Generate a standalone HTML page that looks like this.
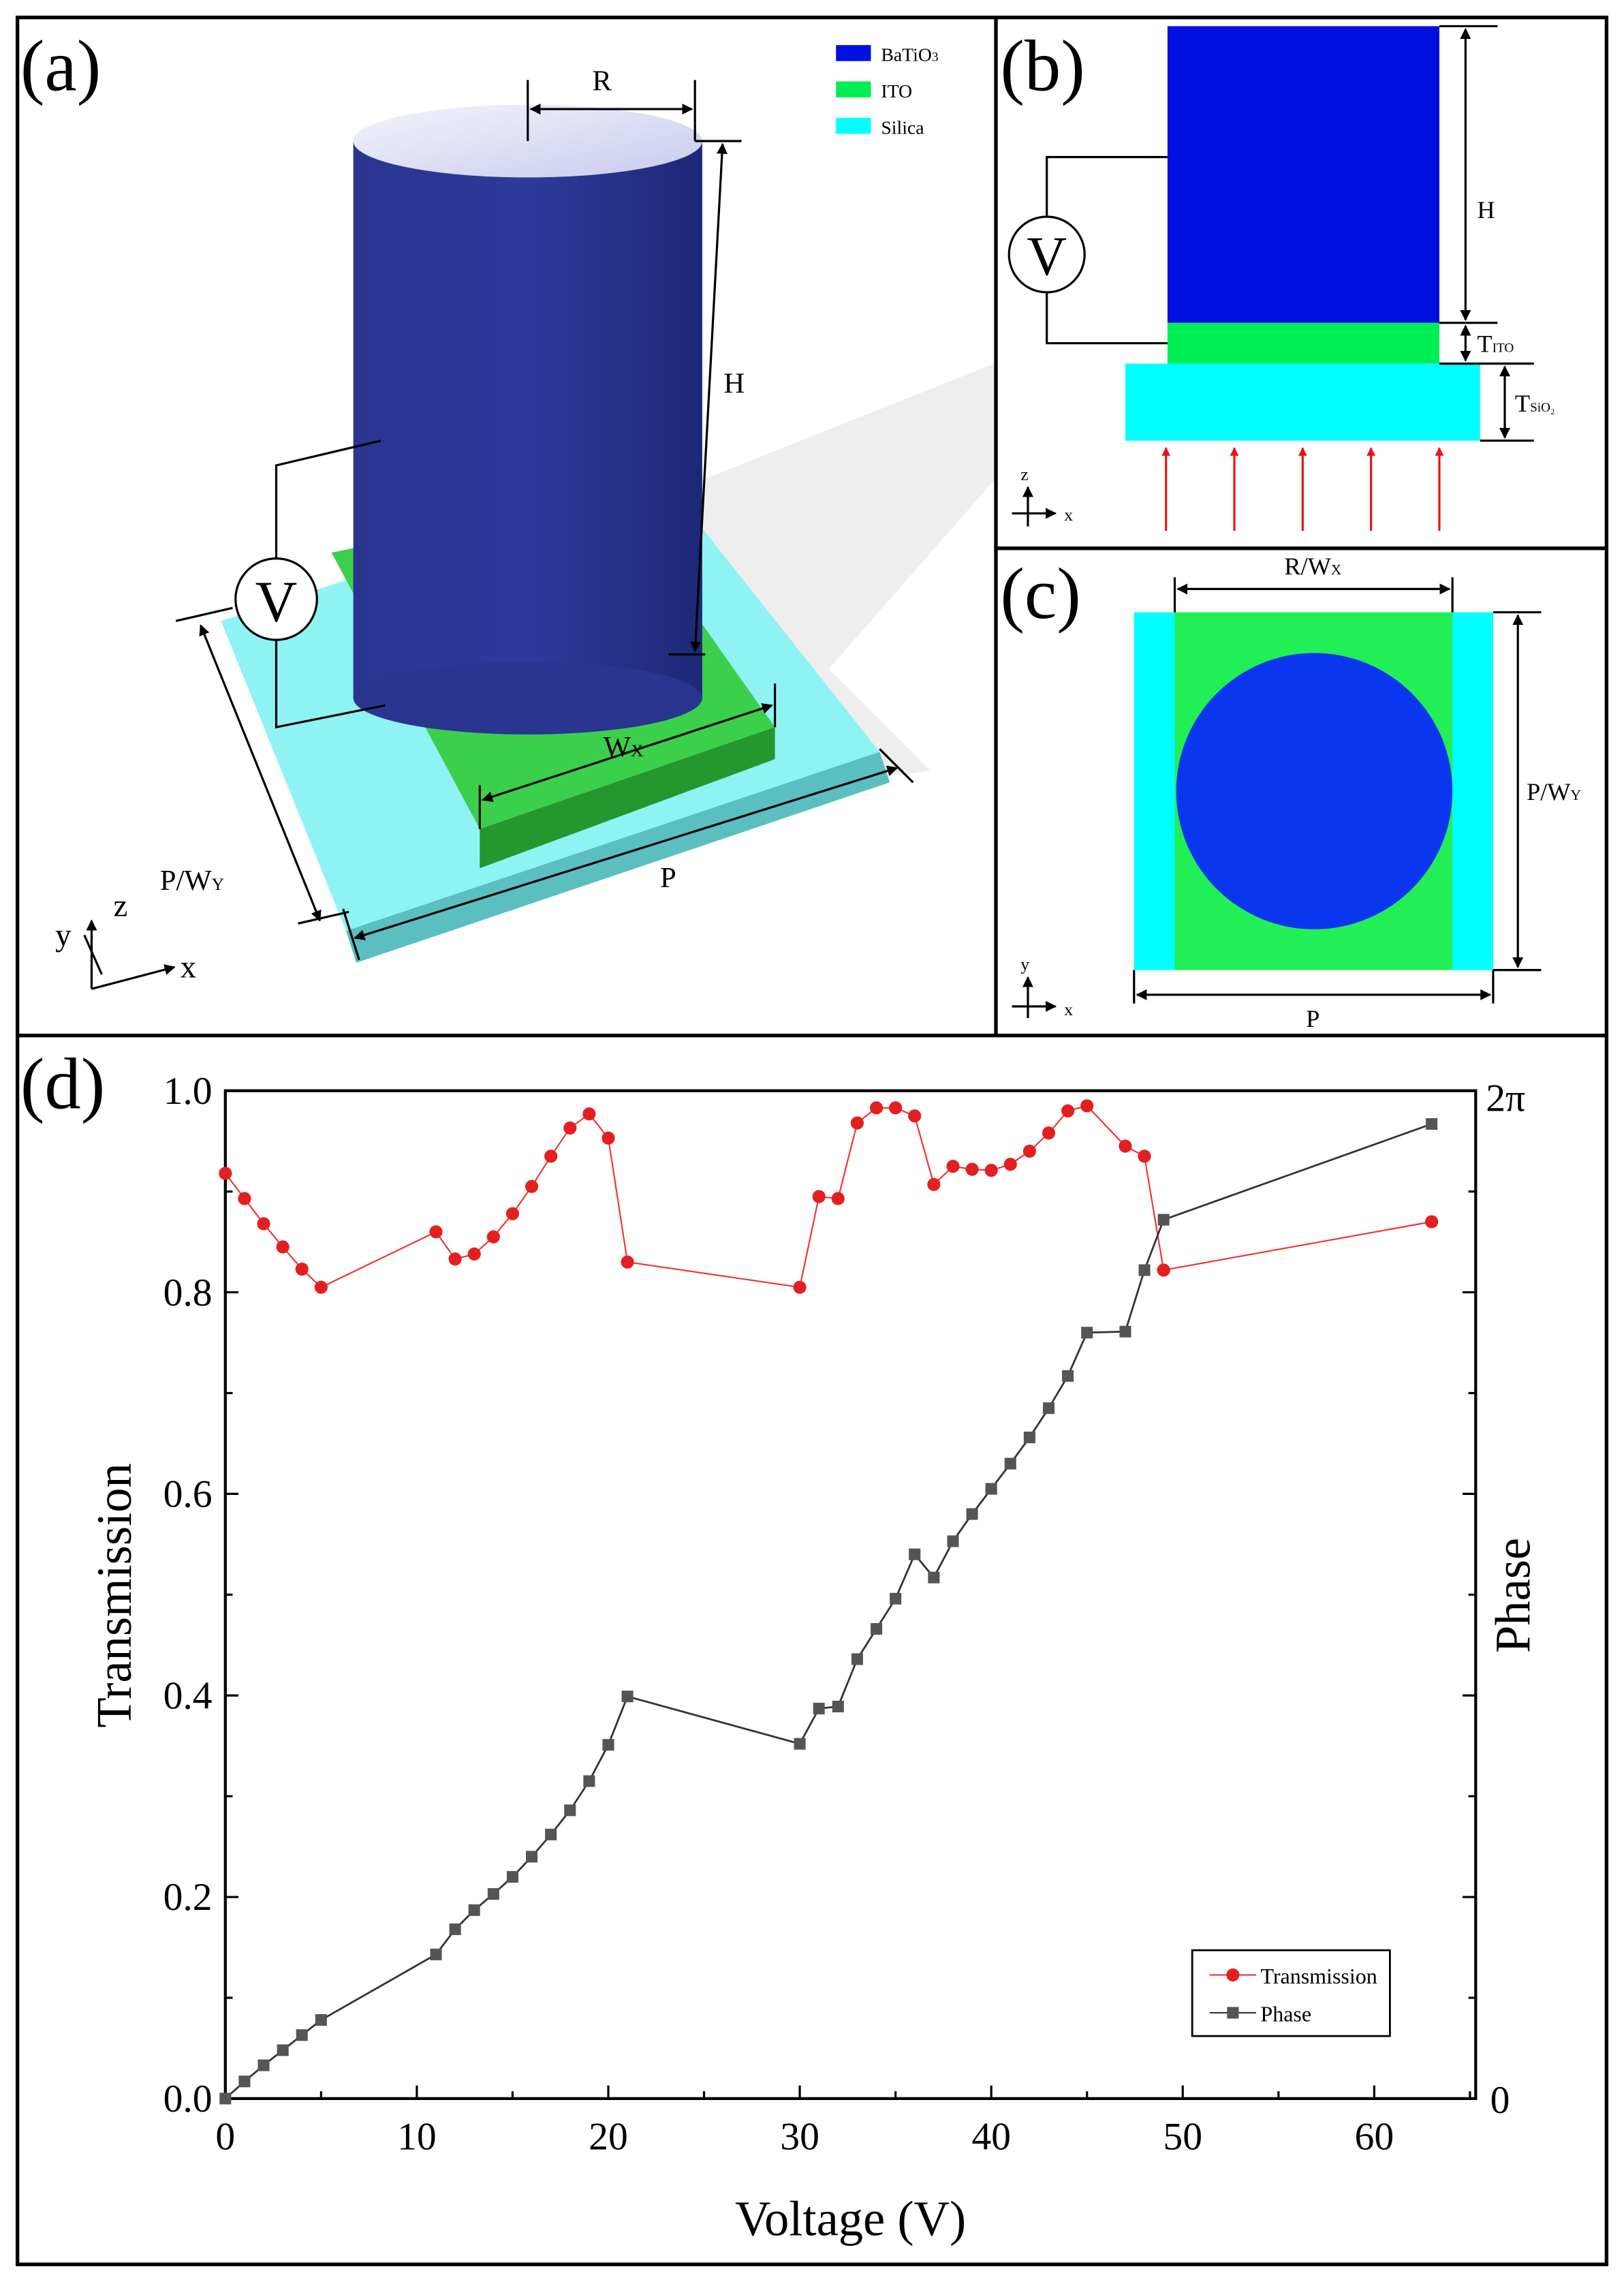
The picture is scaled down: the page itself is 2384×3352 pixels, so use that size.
<!DOCTYPE html>
<html><head><meta charset="utf-8"><style>html,body{margin:0;padding:0;background:#fff}svg{display:block}svg text{font-family:"Liberation Serif","Times New Roman",serif}</style></head><body>
<svg width="2384" height="3352" viewBox="0 0 1117 1570.5" preserveAspectRatio="none" xmlns="http://www.w3.org/2000/svg" font-family="Liberation Serif, serif">
<defs>
<linearGradient id="cyl" x1="0" x2="1" y1="0" y2="0"><stop offset="0" stop-color="#2a3590"/><stop offset="0.5" stop-color="#2e3a9a"/><stop offset="1" stop-color="#1e2878"/></linearGradient>
<linearGradient id="top" x1="0" x2="1" y1="0" y2="1"><stop offset="0" stop-color="#f4f4fb"/><stop offset="1" stop-color="#c8cbee"/></linearGradient>
<marker id="ah" viewBox="0 0 10 10" refX="9" refY="5" markerWidth="5" markerHeight="5" orient="auto-start-reverse"><path d="M0,0L10,5L0,10z" fill="#000"/></marker>
<marker id="ar" viewBox="0 0 10 10" refX="9" refY="5" markerWidth="4" markerHeight="4" orient="auto"><path d="M0,0L10,5L0,10z" fill="#e11"/></marker>
</defs>
<rect width="1117" height="1570.5" fill="#fff"/>
<!-- panel a -->
<polygon points="483,330 684,250 684,330 570,460 640,530 560,540 483,460" fill="#eeeeee"/>
<polygon points="152,427 455,328 605,517 238,640" fill="#8ff3f3"/>
<polygon points="238,640 605,517 612,538 245,662" fill="#5cbfbf"/>
<polygon points="228,380 420,340 533,500 330,570" fill="#3ccf4c"/>
<polygon points="330,570 533,500 533,522 330,597" fill="#26962e"/>
<rect x="243" y="97" width="240" height="383" fill="url(#cyl)"/>
<ellipse cx="363" cy="480" rx="120" ry="25" fill="#2a3590"/>
<ellipse cx="363" cy="97" rx="120" ry="25" fill="url(#top)"/>
<g stroke="#000" stroke-width="2.5" fill="none">
<rect x="12" y="12" width="1093" height="1545"/>
<line x1="12" y1="712" x2="1105" y2="712"/>
<line x1="685" y1="12" x2="685" y2="712"/>
<line x1="685" y1="377" x2="1105" y2="377"/>
</g>
<text x="14" y="62" font-size="50">(a)</text>
<g stroke="#000" stroke-width="1.5" fill="none">
<polyline points="262,303 190,320 190,385"/>
<polyline points="190,440 190,500 265,485"/>
<circle cx="190" cy="412" r="28" fill="#fff"/>
<line x1="363" y1="55" x2="363" y2="97"/><line x1="478" y1="55" x2="478" y2="97"/>
<line x1="365" y1="75" x2="476" y2="75" marker-start="url(#ah)" marker-end="url(#ah)"/>
<line x1="478" y1="97" x2="510" y2="97"/><line x1="460" y1="450" x2="485" y2="450"/>
<line x1="497" y1="99" x2="478" y2="448" marker-start="url(#ah)" marker-end="url(#ah)"/>
<line x1="121" y1="427" x2="160" y2="418"/><line x1="205" y1="635" x2="240" y2="627"/>
<line x1="138" y1="430" x2="220" y2="633" marker-start="url(#ah)" marker-end="url(#ah)"/>
<line x1="236" y1="625" x2="247" y2="660"/><line x1="605" y1="515" x2="628" y2="538"/>
<line x1="244" y1="645" x2="617" y2="528" marker-start="url(#ah)" marker-end="url(#ah)"/>
<line x1="330" y1="540" x2="330" y2="570"/><line x1="533" y1="470" x2="533" y2="500"/>
<line x1="332" y1="550" x2="531" y2="485" marker-start="url(#ah)" marker-end="url(#ah)"/>
<line x1="63" y1="680" x2="63" y2="633" marker-end="url(#ah)"/>
<line x1="63" y1="680" x2="120" y2="665" marker-end="url(#ah)"/>
<line x1="70" y1="670" x2="58" y2="643"/>
</g>
<text x="190" y="427" font-size="40" text-anchor="middle">V</text>
<text x="414" y="62" font-size="20" text-anchor="middle">R</text>
<text x="505" y="270" font-size="20" text-anchor="middle">H</text>
<text x="415" y="520" font-size="20">W<tspan font-size="12">X</tspan></text>
<text x="110" y="612" font-size="20">P/W<tspan font-size="12">Y</tspan></text>
<text x="454" y="610" font-size="20">P</text>
<text x="38" y="650" font-size="22">y</text><text x="78" y="630" font-size="22">z</text><text x="124" y="672" font-size="22">x</text>
<rect x="575" y="31" width="24" height="11" fill="#0010e0"/><text x="606" y="42" font-size="13">BaTiO<tspan font-size="9">3</tspan></text>
<rect x="575" y="56" width="24" height="11" fill="#00ee55"/><text x="606" y="67" font-size="13">ITO</text>
<rect x="575" y="81" width="24" height="11" fill="#00ffff"/><text x="606" y="92" font-size="13">Silica</text>
<!-- panel b -->
<text x="688" y="62" font-size="50">(b)</text>
<rect x="803" y="18" width="187" height="204" fill="#0010e0"/>
<rect x="803" y="222" width="187" height="28" fill="#00ee55"/>
<rect x="774" y="250" width="244" height="53" fill="#00ffff"/>
<g stroke="#000" stroke-width="1.5" fill="none">
<polyline points="803,108 720,108 720,149"/><polyline points="720,201 720,236 803,236"/>
<circle cx="720" cy="175" r="26"/>
<line x1="990" y1="18" x2="1030" y2="18"/><line x1="990" y1="222" x2="1030" y2="222"/><line x1="990" y1="250" x2="1055" y2="250"/><line x1="1018" y1="303" x2="1055" y2="303"/>
<line x1="1008" y1="20" x2="1008" y2="220" marker-start="url(#ah)" marker-end="url(#ah)"/>
<line x1="1008" y1="224" x2="1008" y2="248" marker-start="url(#ah)" marker-end="url(#ah)"/>
<line x1="1035" y1="252" x2="1035" y2="301" marker-start="url(#ah)" marker-end="url(#ah)"/>
<line x1="707" y1="362" x2="707" y2="335" marker-end="url(#ah)"/><line x1="696" y1="353" x2="726" y2="353" marker-end="url(#ah)"/>
</g>
<g stroke="#e11" stroke-width="1.5"><line x1="802" y1="365" x2="802" y2="308" marker-end="url(#ar)"/><line x1="849" y1="365" x2="849" y2="308" marker-end="url(#ar)"/><line x1="896" y1="365" x2="896" y2="308" marker-end="url(#ar)"/><line x1="943" y1="365" x2="943" y2="308" marker-end="url(#ar)"/><line x1="990" y1="365" x2="990" y2="308" marker-end="url(#ar)"/></g>
<text x="720" y="189" font-size="38" text-anchor="middle">V</text>
<text x="1016" y="150" font-size="17">H</text>
<text x="1016" y="242" font-size="17">T<tspan font-size="9">ITO</tspan></text>
<text x="1042" y="283" font-size="17">T<tspan font-size="9">SiO₂</tspan></text>
<text x="702" y="330" font-size="12">z</text><text x="732" y="358" font-size="12">x</text>
<!-- panel c -->
<text x="688" y="425" font-size="50">(c)</text>
<rect x="780" y="421" width="247" height="246" fill="#00ffff"/>
<rect x="808" y="421" width="191" height="246" fill="#22ef55"/>
<ellipse cx="904" cy="544" rx="95" ry="95" fill="#0a36f0"/>
<g stroke="#000" stroke-width="1.5" fill="none">
<line x1="808" y1="397" x2="808" y2="421"/><line x1="999" y1="397" x2="999" y2="421"/>
<line x1="810" y1="405" x2="997" y2="405" marker-start="url(#ah)" marker-end="url(#ah)"/>
<line x1="1027" y1="421" x2="1060" y2="421"/><line x1="1027" y1="667" x2="1060" y2="667"/>
<line x1="1044" y1="423" x2="1044" y2="665" marker-start="url(#ah)" marker-end="url(#ah)"/>
<line x1="780" y1="667" x2="780" y2="690"/><line x1="1027" y1="667" x2="1027" y2="690"/>
<line x1="782" y1="684" x2="1025" y2="684" marker-start="url(#ah)" marker-end="url(#ah)"/>
<line x1="707" y1="700" x2="707" y2="672" marker-end="url(#ah)"/><line x1="696" y1="692" x2="726" y2="692" marker-end="url(#ah)"/>
</g>
<text x="903" y="395" font-size="17" text-anchor="middle">R/W<tspan font-size="10">X</tspan></text>
<text x="1050" y="550" font-size="17">P/W<tspan font-size="10">Y</tspan></text>
<text x="903" y="706" font-size="17" text-anchor="middle">P</text>
<text x="702" y="667" font-size="12">y</text><text x="732" y="698" font-size="12">x</text>
<!-- panel d -->
<text x="14" y="762" font-size="50">(d)</text>
<rect x="155" y="750" width="860" height="693" fill="none" stroke="#000" stroke-width="2"/>
<g id="ticks" stroke="#000" stroke-width="1.5"></g>
<g id="labels" font-size="27" text-anchor="middle"></g>
<text x="585" y="1537" font-size="34" text-anchor="middle">Voltage (V)</text>
<text transform="translate(90,1097) rotate(-90)" font-size="34" text-anchor="middle">Transmission</text>
<text transform="translate(1052,1097) rotate(-90)" font-size="34" text-anchor="middle">Phase</text>
<text x="1022" y="764" font-size="27">2π</text>
<text x="1025" y="1453" font-size="27">0</text>
<polyline id="tl" fill="none" stroke="#e33" stroke-width="1"/>
<polyline id="pl" fill="none" stroke="#333" stroke-width="1.3"/>
<g id="tm" fill="#e32020"></g>
<g id="pm" fill="#555"></g>
<rect x="820" y="1341" width="136" height="59" fill="#fff" stroke="#000" stroke-width="1.3"/>
<line x1="832" y1="1358" x2="864" y2="1358" stroke="#e33"/><circle cx="848" cy="1358" r="4.5" fill="#e32020"/>
<line x1="832" y1="1384" x2="864" y2="1384" stroke="#333"/><rect x="844" y="1380" width="8" height="8" fill="#555"/>
<text x="867" y="1364" font-size="15">Transmission</text>
<text x="867" y="1390" font-size="15">Phase</text>
<script>
(function(){
var ns="http://www.w3.org/2000/svg";
function X(v){return 155+v*13.17;}function Y(t){return 1443-t*693;}
var T=[[0,.918],[1,.893],[2,.868],[3,.845],[4,.823],[5,.805],[11,.860],[12,.833],[13,.838],[14,.855],[15,.878],[16,.905],[17,.935],[18,.963],[19,.977],[20,.953],[21,.830],[30,.805],[31,.895],[32,.893],[33,.968],[34,.983],[35,.983],[36,.975],[37,.907],[38,.925],[39,.922],[40,.921],[41,.927],[42,.940],[43,.958],[44,.980],[45,.985],[47,.945],[48,.935],[49,.822],[63,.870]];
var P=[[0,0],[1,.017],[2,.033],[3,.048],[4,.063],[5,.078],[11,.143],[12,.168],[13,.187],[14,.203],[15,.220],[16,.240],[17,.262],[18,.286],[19,.315],[20,.351],[21,.399],[30,.352],[31,.387],[32,.389],[33,.436],[34,.466],[35,.496],[36,.540],[37,.517],[38,.553],[39,.580],[40,.605],[41,.630],[42,.656],[43,.685],[44,.717],[45,.760],[47,.761],[48,.822],[49,.872],[63,.967]];
document.getElementById('tl').setAttribute('points',T.map(function(p){return X(p[0])+','+Y(p[1]);}).join(' '));
document.getElementById('pl').setAttribute('points',P.map(function(p){return X(p[0])+','+Y(p[1]);}).join(' '));
var tm=document.getElementById('tm'),pm=document.getElementById('pm');
T.forEach(function(p){var c=document.createElementNS(ns,'circle');c.setAttribute('cx',X(p[0]));c.setAttribute('cy',Y(p[1]));c.setAttribute('r',4.5);tm.appendChild(c);});
P.forEach(function(p){var r=document.createElementNS(ns,'rect');r.setAttribute('x',X(p[0])-4);r.setAttribute('y',Y(p[1])-4);r.setAttribute('width',8);r.setAttribute('height',8);pm.appendChild(r);});
var tk=document.getElementById('ticks'),lb=document.getElementById('labels');
function ln(a,b,c,d){var l=document.createElementNS(ns,'line');l.setAttribute('x1',a);l.setAttribute('y1',b);l.setAttribute('x2',c);l.setAttribute('y2',d);tk.appendChild(l);}
function tx(x,y,s,anc){var t=document.createElementNS(ns,'text');t.setAttribute('x',x);t.setAttribute('y',y);if(anc)t.setAttribute('text-anchor',anc);t.textContent=s;lb.appendChild(t);}
for(var v=0;v<=65;v+=5){var x=X(v),L=(v%10==0)?9:5;ln(x,1443,x,1443-L);if(v%10==0)tx(x,1478,String(v));}
for(var i=0;i<=10;i++){var y=Y(i/10),L=(i%2==0)?9:5;ln(155,y,155+L,y);ln(1015,y,1015-L,y);if(i%2==0)tx(146,y+9,(i/10).toFixed(1),'end');}
})();
</script>
</svg>
</body></html>
